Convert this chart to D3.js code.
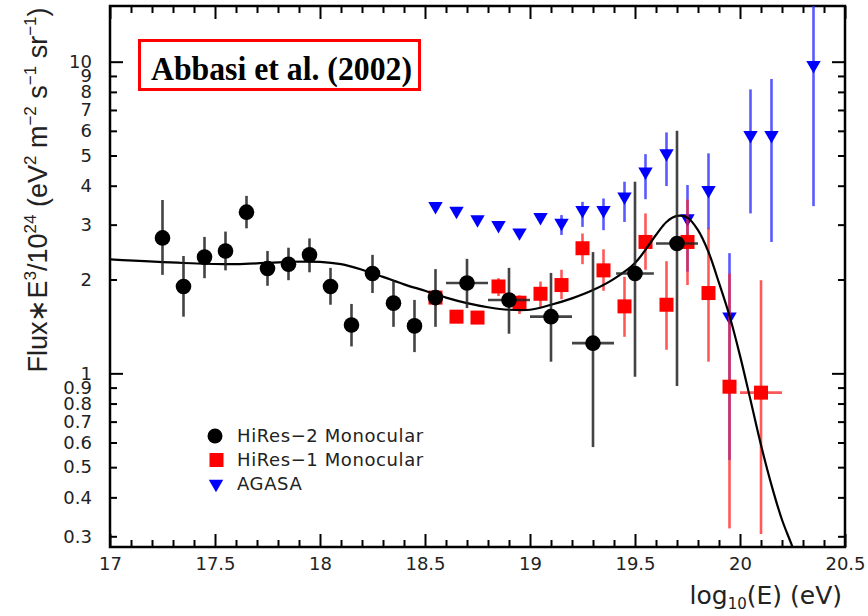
<!DOCTYPE html>
<html>
<head>
<meta charset="utf-8">
<script src="https://cdn.jsdelivr.net/npm/d3@7"></script>
<style>
  body { margin: 0; background: #fff; }
</style>
</head>
<body>
<script>
// HiRes-2 monocular (black circles)
const hr2E    = [17.25, 17.35, 17.45, 17.55, 17.65, 17.75, 17.85, 17.95, 18.05, 18.15, 18.25, 18.35, 18.45, 18.55, 18.7, 18.9, 19.1, 19.3, 19.5, 19.7];
const hr2Flux = [2.72, 1.90, 2.36, 2.47, 3.29, 2.17, 2.24, 2.40, 1.90, 1.43, 2.09, 1.68, 1.42, 1.75, 1.95, 1.72, 1.52, 1.25, 2.09, 2.61];
const hr2Hi   = [3.60, 2.38, 2.74, 2.85, 3.71, 2.47, 2.53, 2.71, 2.18, 1.67, 2.40, 1.99, 1.72, 2.16, 2.33, 2.18, 2.10, 2.45, 4.12, 6.00];
const hr2Lo   = [2.07, 1.52, 2.02, 2.14, 2.92, 1.91, 1.99, 2.11, 1.66, 1.22, 1.81, 1.41, 1.17, 1.41, 1.62, 1.34, 1.09, 0.58, 0.975, 0.91];
const hr2XErr = [0, 0, 0, 0, 0, 0, 0, 0, 0, 0, 0, 0, 0, 0, 0.1, 0.1, 0.1, 0.1, 0.09, 0.1];

// HiRes-1 monocular (red squares)
const hr1E    = [18.55, 18.65, 18.75, 18.85, 18.95, 19.05, 19.15, 19.25, 19.35, 19.45, 19.55, 19.65, 19.75, 19.85, 19.95, 20.1];
const hr1Flux = [1.75, 1.52, 1.51, 1.90, 1.685, 1.80, 1.92, 2.52, 2.14, 1.64, 2.64, 1.66, 2.64, 1.81, 0.906, 0.867];
const hr1Hi   = [1.85, 1.58, 1.57, 2.02, 1.78, 1.97, 2.15, 2.81, 2.50, 2.04, 3.26, 2.29, 3.61, 2.92, 2.09, 1.99];
const hr1Lo   = [1.65, 1.46, 1.45, 1.77, 1.55, 1.63, 1.73, 2.24, 1.84, 1.31, 2.15, 1.19, 1.92, 1.09, 0.318, 0.305];
const hr1XErr = [0, 0, 0, 0, 0, 0, 0, 0, 0, 0, 0, 0, 0, 0, 0, 0.1];

// AGASA (blue down triangles)
const agE    = [18.55, 18.65, 18.75, 18.85, 18.95, 19.05, 19.15, 19.25, 19.35, 19.45, 19.55, 19.65, 19.75, 19.85, 19.95, 20.05, 20.15, 20.35];
const agFlux = [3.44, 3.32, 3.12, 2.99, 2.83, 3.17, 3.04, 3.34, 3.34, 3.69, 4.44, 5.08, 3.14, 3.87, 1.52, 5.81, 5.81, 9.75];
const agHi   = [3.44, 3.32, 3.12, 2.99, 2.83, 3.17, 3.22, 3.55, 3.64, 4.12, 5.05, 5.93, 4.02, 5.08, 2.43, 8.15, 8.80, 20];
const agLo   = [3.44, 3.32, 3.12, 2.99, 2.83, 3.17, 2.78, 2.95, 2.88, 3.06, 3.62, 3.99, 2.12, 2.90, 0.527, 3.26, 2.64, 3.44];

// fitted model curve
const fitE    = [17.0, 17.35, 17.6, 17.85, 18.0, 18.1, 18.2, 18.3, 18.4, 18.5, 18.6, 18.7, 18.8, 18.9, 19.0, 19.1, 19.2, 19.3, 19.4, 19.5, 19.6, 19.65, 19.7, 19.75, 19.8, 19.85, 19.9, 19.95, 20.0, 20.05, 20.1, 20.15, 20.2, 20.25, 20.3];
const fitFlux = [2.32, 2.26, 2.24, 2.28, 2.28, 2.24, 2.15, 2.04, 1.93, 1.84, 1.75, 1.68, 1.63, 1.60, 1.60, 1.66, 1.74, 1.85, 2.01, 2.26, 2.78, 3.06, 3.20, 3.16, 2.88, 2.45, 1.95, 1.53, 1.14, 0.821, 0.589, 0.438, 0.339, 0.277, 0.22];

// axis ticks
const xMajorTicks = [17, 17.5, 18, 18.5, 19, 19.5, 20, 20.5];
const xMinorTicks = [17.1, 17.2, 17.3, 17.4, 17.6, 17.7, 17.8, 17.9, 18.1, 18.2, 18.3, 18.4, 18.6, 18.7, 18.8, 18.9,
                     19.1, 19.2, 19.3, 19.4, 19.6, 19.7, 19.8, 19.9, 20.1, 20.2, 20.3, 20.4];
const yMajorTicks = [1, 10];
const yMinorTicks = [0.3, 0.4, 0.5, 0.6, 0.7, 0.8, 0.9, 2, 3, 4, 5, 6, 7, 8, 9];
const yLabelTicks = [0.3, 0.4, 0.5, 0.6, 0.7, 0.8, 0.9, 1, 2, 3, 4, 5, 6, 7, 8, 9, 10];

const legendItems = ["HiRes\u22122 Monocular", "HiRes\u22121 Monocular", "AGASA"];

// plot frame
const plotL = 110, plotR = 845, plotT = 6, plotB = 547;

const svg = d3.select("body").append("svg")
  .attr("width", 868)
  .attr("height", 616);

svg.append("rect").attr("width", 868).attr("height", 616).attr("fill", "#fff");

const x = d3.scaleLinear().domain([17, 20.5]).range([plotL, plotR]);
const y = d3.scaleLog().domain([0.2772, 15.09]).range([plotB, plotT]);

svg.append("defs").append("clipPath").attr("id", "plotclip")
  .append("rect")
  .attr("x", plotL).attr("y", plotT)
  .attr("width", plotR - plotL).attr("height", plotB - plotT);

const tickFont = "DejaVu Sans, sans-serif";

function styleAxis(g) {
  g.select(".domain").remove();
  g.selectAll(".tick line").attr("stroke", "#000").attr("stroke-width", 2);
  g.selectAll("text")
    .attr("font-family", tickFont)
    .attr("font-size", 18)
    .attr("fill", "#222");
}

// bottom axis
svg.append("g").attr("transform", `translate(0,${plotB})`)
  .call(d3.axisBottom(x).tickValues(xMajorTicks).tickSizeInner(-13).tickSizeOuter(0)
    .tickPadding(10).tickFormat(d => String(d)))
  .call(styleAxis);
svg.append("g").attr("transform", `translate(0,${plotB})`)
  .call(d3.axisBottom(x).tickValues(xMinorTicks).tickSizeInner(-7).tickSizeOuter(0).tickFormat(""))
  .call(styleAxis);

// top axis
svg.append("g").attr("transform", `translate(0,${plotT})`)
  .call(d3.axisTop(x).tickValues(xMajorTicks).tickSizeInner(-13).tickSizeOuter(0).tickFormat(""))
  .call(styleAxis);
svg.append("g").attr("transform", `translate(0,${plotT})`)
  .call(d3.axisTop(x).tickValues(xMinorTicks).tickSizeInner(-7).tickSizeOuter(0).tickFormat(""))
  .call(styleAxis);

// left axis
svg.append("g").attr("transform", `translate(${plotL},0)`)
  .call(d3.axisLeft(y).tickValues(yLabelTicks).tickSizeInner(0).tickSizeOuter(0)
    .tickPadding(18).tickFormat(d => String(d)))
  .call(styleAxis);
svg.append("g").attr("transform", `translate(${plotL},0)`)
  .call(d3.axisLeft(y).tickValues(yMajorTicks).tickSizeInner(-13).tickSizeOuter(0).tickFormat(""))
  .call(styleAxis);
svg.append("g").attr("transform", `translate(${plotL},0)`)
  .call(d3.axisLeft(y).tickValues(yMinorTicks).tickSizeInner(-7).tickSizeOuter(0).tickFormat(""))
  .call(styleAxis);

// right axis
svg.append("g").attr("transform", `translate(${plotR},0)`)
  .call(d3.axisRight(y).tickValues(yMajorTicks).tickSizeInner(-13).tickSizeOuter(0).tickFormat(""))
  .call(styleAxis);
svg.append("g").attr("transform", `translate(${plotR},0)`)
  .call(d3.axisRight(y).tickValues(yMinorTicks).tickSizeInner(-7).tickSizeOuter(0).tickFormat(""))
  .call(styleAxis);

// frame
svg.append("rect")
  .attr("x", plotL).attr("y", plotT)
  .attr("width", plotR - plotL).attr("height", plotB - plotT)
  .attr("fill", "none").attr("stroke", "#000").attr("stroke-width", 2.5);

const plot = svg.append("g").attr("clip-path", "url(#plotclip)");

// helper to draw error bars
function errorBars(E, hi, lo, xerr, flux, color, opacity) {
  const g = plot.append("g").attr("stroke", color).attr("stroke-width", 2.6).attr("stroke-opacity", opacity);
  E.forEach((e, i) => {
    g.append("line")
      .attr("x1", x(e)).attr("x2", x(e))
      .attr("y1", y(hi[i])).attr("y2", y(lo[i]));
    if (xerr && xerr[i] > 0) {
      g.append("line")
        .attr("x1", x(e - xerr[i])).attr("x2", x(e + xerr[i]))
        .attr("y1", y(flux[i])).attr("y2", y(flux[i]));
    }
  });
}

const triangle = d3.symbol().type(d3.symbolTriangle).size(90);

// AGASA
errorBars(agE, agHi, agLo, null, agFlux, "#3030ff", 0.8);
plot.append("g").selectAll("path")
  .data(agE)
  .join("path")
  .attr("d", triangle)
  .attr("transform", (d, i) => `translate(${x(d)},${y(agFlux[i])}) rotate(180)`)
  .attr("fill", "#0000ff");

// HiRes-1
errorBars(hr1E, hr1Hi, hr1Lo, hr1XErr, hr1Flux, "#ff2020", 0.75);
plot.append("g").selectAll("rect")
  .data(hr1E)
  .join("rect")
  .attr("x", d => x(d) - 7)
  .attr("y", (d, i) => y(hr1Flux[i]) - 7)
  .attr("width", 14).attr("height", 14)
  .attr("fill", "#ff0000");

// fit curve
const fitLine = d3.line()
  .x(d => x(d[0]))
  .y(d => y(d[1]))
  .curve(d3.curveCatmullRom);
plot.append("path")
  .datum(fitE.map((e, i) => [e, fitFlux[i]]))
  .attr("d", fitLine)
  .attr("fill", "none")
  .attr("stroke", "#000")
  .attr("stroke-width", 2.2);

// HiRes-2
errorBars(hr2E, hr2Hi, hr2Lo, hr2XErr, hr2Flux, "#222", 0.85);
plot.append("g").selectAll("circle")
  .data(hr2E)
  .join("circle")
  .attr("cx", d => x(d))
  .attr("cy", (d, i) => y(hr2Flux[i]))
  .attr("r", 7.8)
  .attr("fill", "#000");

// title box
svg.append("rect")
  .attr("x", 139.5).attr("y", 40.5)
  .attr("width", 280).attr("height", 49)
  .attr("fill", "#fff").attr("stroke", "#f00").attr("stroke-width", 3);
svg.append("text")
  .attr("x", 151).attr("y", 80)
  .attr("font-family", "Liberation Serif, Times New Roman, serif")
  .attr("font-weight", "bold")
  .attr("font-size", 34)
  .attr("textLength", 261)
  .attr("lengthAdjust", "spacingAndGlyphs")
  .text("Abbasi et al. (2002)");

// legend
const legend = svg.append("g");
legend.append("circle").attr("cx", 215).attr("cy", 436).attr("r", 7.5).attr("fill", "#000");
legend.append("rect").attr("x", 209.5).attr("y", 453).attr("width", 14).attr("height", 14).attr("fill", "#f00");
legend.append("path").attr("d", triangle).attr("transform", "translate(216,484) rotate(180)").attr("fill", "#00f");
legendItems.forEach((t, i) => {
  legend.append("text")
    .attr("x", 237).attr("y", 442 + i * 24)
    .attr("font-family", tickFont)
    .attr("font-size", 18)
    .attr("letter-spacing", 0.6)
    .attr("fill", "#222")
    .text(t);
});

// y axis title
const yTitle = svg.append("text")
  .attr("transform", "translate(47,190) rotate(-90)")
  .attr("text-anchor", "middle")
  .attr("font-family", "Liberation Sans, Arial, sans-serif")
  .attr("font-size", 27)
  .attr("fill", "#222");
const ySup = (s) => { yTitle.append("tspan").attr("dy", -11).attr("font-size", 17).text(s); };
const yNorm = (s) => { yTitle.append("tspan").attr("dy", 11).text(s); };
yTitle.append("tspan").text("Flux\u2217E");
ySup("3"); yNorm("/10");
ySup("24"); yNorm(" (eV");
ySup("2"); yNorm(" m");
ySup("\u22122"); yNorm(" s");
ySup("\u22121"); yNorm(" sr");
ySup("\u22121"); yNorm(")");

// x axis title
const xTitle = svg.append("text")
  .attr("x", 842).attr("y", 604)
  .attr("text-anchor", "end")
  .attr("font-family", tickFont)
  .attr("font-size", 25)
  .attr("fill", "#222");
xTitle.append("tspan").text("log");
xTitle.append("tspan").attr("dy", 5).attr("font-size", 15).text("10");
xTitle.append("tspan").attr("dy", -5).text("(E) (eV)");
</script>
</body>
</html>
